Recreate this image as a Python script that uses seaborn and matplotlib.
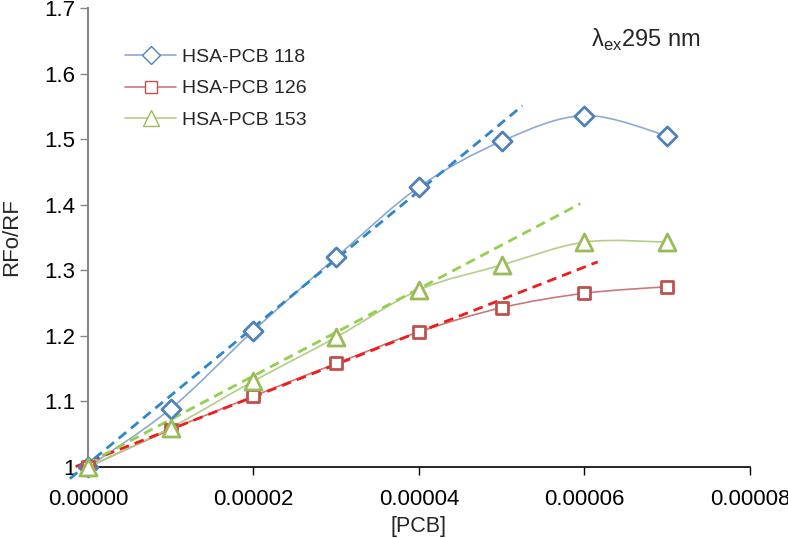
import numpy as np
import pandas as pd
import matplotlib
matplotlib.use("Agg")
import matplotlib.pyplot as plt
import seaborn as sns
from matplotlib.path import Path
from matplotlib.patches import PathPatch
from matplotlib.lines import Line2D

# data
pcb = [0.0, 0.00001, 0.00002, 0.00003, 0.00004, 0.00005, 0.00006, 0.00007]
rf_118 = [1.000, 1.089, 1.208, 1.320, 1.427, 1.497, 1.536, 1.505]
rf_126 = [1.000, 1.057, 1.108, 1.158, 1.206, 1.243, 1.265, 1.275]
rf_153 = [1.000, 1.060, 1.131, 1.198, 1.270, 1.308, 1.343, 1.343]
labels = ["HSA-PCB 118", "HSA-PCB 126", "HSA-PCB 153"]

# linear trendlines: slope, intercept, x range
trend_118 = (10400, 1.005, -0.0000022, 0.0000525)
trend_126 = (4950, 1.008, -0.0000015, 0.0000616)
trend_153 = (6650, 1.006, 0.0, 0.0000595)

x_ticks = [0.0, 0.00002, 0.00004, 0.00006, 0.00008]
y_ticks = [1.0, 1.1, 1.2, 1.3, 1.4, 1.5, 1.6, 1.7]

sns.set_style("white")
plt.rcParams["font.family"] = ["Liberation Sans", "DejaVu Sans"]

line_cols = ["#8EA9D2", "#C97A78", "#B5CC8A"]
mark_cols = ["#4F81BD", "#C0504D", "#9BBB59"]
trend_cols = ["#2E86C8", "#F01C1C", "#92D050"]
markers = ["D", "s", "^"]
msizes = [95, 75, 150]

df = pd.DataFrame({"x": pcb * 3,
                   "y": rf_118 + rf_126 + rf_153,
                   "series": [labels[0]] * 8 + [labels[1]] * 8 + [labels[2]] * 8})

fig = plt.figure(figsize=(7.88, 5.38), dpi=100)
ax = fig.add_axes([0.1117, 0.132, 0.84, 0.853])


def smooth_path(xs, ys):
    # Excel-like smoothed line (Catmull-Rom as cubic Bezier)
    pts = np.column_stack([xs, ys])
    verts = [pts[0]]
    codes = [Path.MOVETO]
    n = len(pts)
    for i in range(n - 1):
        p0 = pts[i - 1] if i > 0 else pts[i]
        p1, p2 = pts[i], pts[i + 1]
        p3 = pts[i + 2] if i + 2 < n else pts[i + 1]
        verts += [p1 + (p2 - p0) / 6, p2 - (p3 - p1) / 6, p2]
        codes += [Path.CURVE4] * 3
    return Path(verts, codes)


trends = [trend_118, trend_126, trend_153]
order = [1, 2, 0]
for i in order:
    s, b, x0, x1 = trends[i]
    tx = np.array([x0, x1])
    sns.lineplot(x=tx, y=s * tx + b, ax=ax, color=trend_cols[i], lw=2,
                 linestyle=(0, (3.5, 2.2)), clip_on=False, zorder=3)

for i, lab in enumerate(labels):
    sub = df[df["series"] == lab]
    ax.add_patch(PathPatch(smooth_path(sub["x"].values, sub["y"].values),
                           fill=False, edgecolor=line_cols[i], lw=1.2, zorder=2))
    sns.scatterplot(data=sub, x="x", y="y", ax=ax, marker=markers[i], s=msizes[i],
                    facecolor="white", edgecolor=mark_cols[i], linewidth=2,
                    clip_on=False, zorder=4, legend=False)

ax.set_xlim(0, 0.00008)
ax.set_ylim(1.0, 1.7)
ax.set_xticks(x_ticks)
ax.set_xticklabels([f"{v:.5f}" for v in x_ticks])
ax.set_yticks(y_ticks)
ax.set_yticklabels(["1"] + [f"{v:.1f}" for v in y_ticks[1:]])
ax.tick_params(axis="both", labelsize=16, length=6, direction="out", colors="black")
ax.tick_params(axis="y", color="#868686", width=1, pad=3)
ax.tick_params(axis="x", color="black", width=1, pad=10)
ax.yaxis.set_ticks_position("left")
ax.xaxis.set_ticks_position("bottom")
for side in ["top", "right"]:
    ax.spines[side].set_visible(False)
ax.spines["left"].set_color("#868686")
ax.spines["left"].set_linewidth(1.5)
ax.spines["bottom"].set_color("black")
ax.spines["bottom"].set_linewidth(1.2)

ax.set_xlabel("[PCB]", fontsize=15.5, labelpad=4)
ax.set_ylabel("RFo/RF", fontsize=16, labelpad=16)

ax.text(0.76, 0.93, r"λ$_{\mathregular{ex}}$295 nm", transform=ax.transAxes,
        fontsize=17, va="center", ha="left")

handles = [Line2D([0], [0], color=line_cols[i], lw=1.2, marker=markers[i],
                  markersize=[9, 8, 11][i], markerfacecolor="white",
                  markeredgecolor=mark_cols[i], markeredgewidth=1)
           for i in range(3)]
ax.legend(handles, labels, loc="upper left", bbox_to_anchor=(0.03, 0.95),
          frameon=False, fontsize=14, handlelength=2.6, handletextpad=0.3,
          labelspacing=0.7)

fig.savefig("out.png", dpi=100)
